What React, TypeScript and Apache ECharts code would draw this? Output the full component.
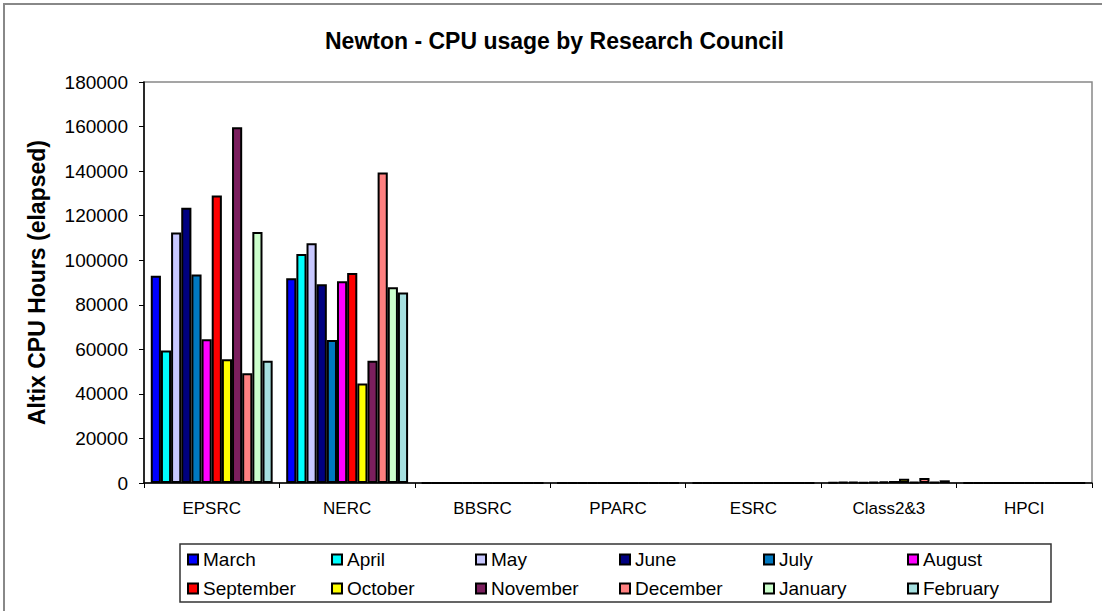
import React, { useEffect, useRef } from "react";
import * as echarts from "echarts";

const categories = ["EPSRC", "NERC", "BBSRC", "PPARC", "ESRC", "Class2&3", "HPCI"];
const months = ["March", "April", "May", "June", "July", "August", "September", "October", "November", "December", "January", "February"];
const colors = ["#0000FF", "#00FFFF", "#C8C8FF", "#000080", "#0078C0", "#FF00FF", "#FF0000", "#FFFF00", "#7B1F5E", "#FF8080", "#CCFFCC", "#A6E0E0"];

const march = [93000, 91900, 0, 0, 0, 300, 0];
const april = [59500, 102800, 0, 0, 0, 400, 0];
const may = [112400, 107600, 0, 0, 0, 500, 0];
const june = [123600, 89200, 0, 0, 0, 300, 0];
const july = [93600, 64200, 0, 0, 0, 500, 0];
const august = [64500, 90600, 0, 0, 0, 700, 0];
const september = [129100, 94300, 0, 0, 0, 900, 0];
const october = [55500, 44700, 0, 0, 0, 1900, 0];
const november = [159700, 54900, 0, 0, 0, 500, 0];
const december = [49300, 139400, 0, 0, 0, 2200, 0];
const january = [112700, 87900, 0, 0, 0, 500, 0];
const february = [54900, 85500, 0, 0, 0, 1200, 0];

const seriesValues = [march, april, may, june, july, august, september, october, november, december, january, february];

const yTicks = { min: 0, max: 180000, interval: 20000 };

export default function App() {
  const ref = useRef<HTMLDivElement>(null);
  useEffect(() => {
    if (!ref.current) return;
    const chart = echarts.init(ref.current, null, { renderer: "svg" });
    const font = "'Liberation Sans', Arial, sans-serif";
    chart.setOption({
      animation: false,
      backgroundColor: "#fff",
      textStyle: { fontFamily: font, color: "#000" },
      title: {
        text: "Newton - CPU usage by Research Council",
        left: 320,
        top: 24,
        textStyle: { fontFamily: font, fontSize: 23, fontWeight: "bold", color: "#000" },
      },
      grid: {
        left: 144,
        right: 10,
        top: 82,
        bottom: 128,
        show: true,
        borderColor: "#888",
        borderWidth: 1.5,
        backgroundColor: "transparent",
      },
      legend: {
        data: months.map((name) => ({ name, itemStyle: { borderColor: "#000", borderWidth: 2 } })),
        left: 187,
        top: 550,
        padding: 0,
        width: 880,
        itemWidth: 10,
        itemHeight: 10,
        itemGap: 10,
        itemTextGap: 4,
        icon: "rect",
        itemStyle: { borderColor: "#000", borderWidth: 2 },
        textStyle: { fontFamily: font, fontSize: 19, color: "#000", width: 118, lineHeight: 18 },
      },
      xAxis: {
        type: "category",
        data: categories,
        axisLine: { lineStyle: { color: "#000", width: 1.5 } },
        axisTick: { show: true, length: 5, lineStyle: { color: "#000" } },
        axisLabel: { fontFamily: font, fontSize: 17, color: "#000", margin: 17 },
        splitLine: { show: false },
      },
      yAxis: {
        type: "value",
        min: yTicks.min,
        max: yTicks.max,
        interval: yTicks.interval,
        name: "Altix CPU Hours (elapsed)",
        nameLocation: "middle",
        nameGap: 96,
        nameTextStyle: { fontFamily: font, fontSize: 23, fontWeight: "bold", color: "#000" },
        axisLine: { show: true, lineStyle: { color: "#000", width: 1.5 } },
        axisTick: { show: true, length: 5, lineStyle: { color: "#000" } },
        axisLabel: { fontFamily: font, fontSize: 19, color: "#000", margin: 16, formatter: (v: number) => String(v) },
        splitLine: { show: false },
      },
      series: months.map((m, i) => ({
        name: m,
        type: "bar",
        data: seriesValues[i],
        barGap: "0%",
        barCategoryGap: "10%",
        itemStyle: { color: colors[i], borderColor: "#000", borderWidth: 2 },
      })),
      graphic: [
        {
          type: "rect",
          silent: true,
          shape: { x: 4, y: 4, width: 1110, height: 620 },
          style: { fill: "none", stroke: "#888", lineWidth: 2 },
        },
        {
          type: "rect",
          silent: true,
          shape: { x: 180, y: 544, width: 871, height: 58 },
          style: { fill: "none", stroke: "#333", lineWidth: 1.5 },
        },
      ],
    });
    return () => chart.dispose();
  }, []);
  return (
    <div
      ref={ref}
      style={{ position: "fixed", left: 0, top: 0, width: 1102, height: 611 }}
    />
  );
}
